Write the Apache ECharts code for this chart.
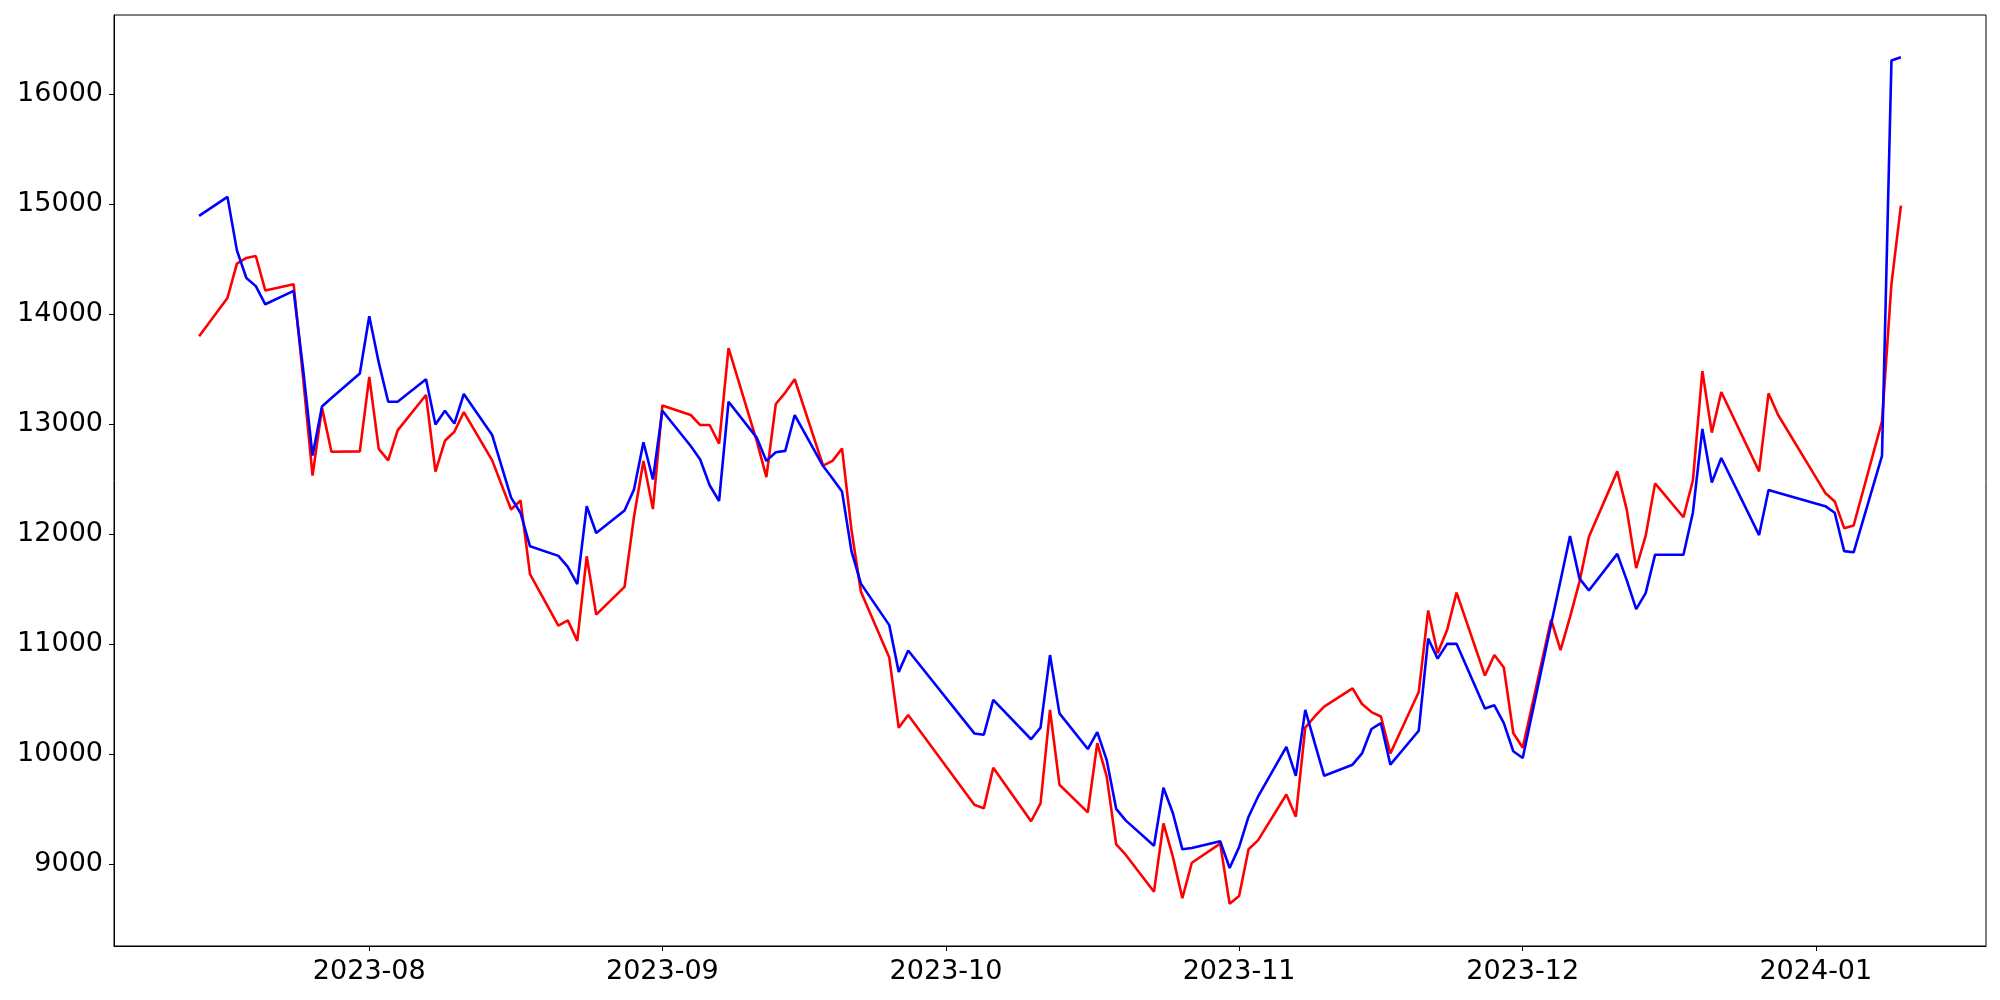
<!DOCTYPE html>
<html>
<head>
<meta charset="utf-8">
<script src="https://cdn.jsdelivr.net/npm/echarts@6/dist/echarts.min.js"></script>
<style>
html,body{margin:0;padding:0;background:#fff;}
#chart{width:2000px;height:1000px;}
</style>
</head>
<body>
<div id="chart"></div>
<script>
const dates = [
  '2023-07-14','2023-07-17','2023-07-18','2023-07-19','2023-07-20','2023-07-21','2023-07-24','2023-07-25','2023-07-26','2023-07-27','2023-07-28','2023-07-31',
  '2023-08-01','2023-08-02','2023-08-03','2023-08-04','2023-08-07','2023-08-08','2023-08-09','2023-08-10','2023-08-11','2023-08-14','2023-08-16','2023-08-17','2023-08-18','2023-08-21','2023-08-22','2023-08-23','2023-08-24','2023-08-25','2023-08-28','2023-08-29','2023-08-30','2023-08-31',
  '2023-09-01','2023-09-04','2023-09-05','2023-09-06','2023-09-07','2023-09-08','2023-09-11','2023-09-12','2023-09-13','2023-09-14','2023-09-15','2023-09-18','2023-09-19','2023-09-20','2023-09-21','2023-09-22','2023-09-25','2023-09-26','2023-09-27',
  '2023-10-04','2023-10-05','2023-10-06','2023-10-10','2023-10-11','2023-10-12','2023-10-13','2023-10-16','2023-10-17','2023-10-18','2023-10-19','2023-10-20','2023-10-23','2023-10-24','2023-10-25','2023-10-26','2023-10-27','2023-10-30','2023-10-31',
  '2023-11-01','2023-11-02','2023-11-03','2023-11-06','2023-11-07','2023-11-08','2023-11-09','2023-11-10','2023-11-13','2023-11-14','2023-11-15','2023-11-16','2023-11-17','2023-11-20','2023-11-21','2023-11-22','2023-11-23','2023-11-24','2023-11-27','2023-11-28','2023-11-29','2023-11-30',
  '2023-12-01','2023-12-04','2023-12-05','2023-12-06','2023-12-07','2023-12-08','2023-12-11','2023-12-12','2023-12-13','2023-12-14','2023-12-15','2023-12-18','2023-12-19','2023-12-20','2023-12-21','2023-12-22','2023-12-26','2023-12-27','2023-12-28',
  '2024-01-02','2024-01-03','2024-01-04','2024-01-05','2024-01-08','2024-01-09','2024-01-10'
];
const blueValues = [
  14891,15064,14578,14327,14253,14088,14210,13500,12713,13160,13236,13459,
  13980,13560,13203,13203,13407,12995,13121,13004,13273,12900,12331,12192,11889,11802,11702,11546,12253,12010,12214,12405,12835,12496,
  13121,12800,12678,12444,12301,13203,12874,12665,12743,12756,13082,12618,12505,12388,11845,11550,11173,10748,10942,
  10189,10177,10493,10136,10241,10901,10371,10047,10201,9946,9504,9399,9168,9695,9464,9136,9148,9209,8966,
  9156,9432,9614,10067,9804,10403,10100,9804,9905,10007,10229,10282,9905,10213,11051,10869,11003,11003,10416,10444,10282,10027,
  9966,11181,11578,11983,11598,11488,11820,11582,11319,11464,11813,11813,12197,12955,12469,12691,11991,12400,12376,
  12254,12194,11845,11835,12711,16304,16332
];
const redValues = [
  13798,14145,14457,14509,14527,14214,14270,13420,12531,13147,12748,12752,
  13429,12774,12670,12943,13264,12568,12848,12930,13108,12670,12223,12305,11637,11168,11216,11030,11798,11268,11520,12158,12665,12227,
  13169,13082,12991,12991,12821,13689,12840,12518,13182,13286,13407,12622,12665,12778,12040,11476,10878,10240,10356,
  9541,9508,9877,9391,9553,10403,9723,9472,10100,9796,9180,9087,8751,9371,9067,8691,9014,9188,8642,
  8711,9136,9217,9634,9432,10241,10343,10432,10598,10456,10383,10343,10007,10565,11306,10918,11128,11468,10715,10902,10788,10193,
  10059,11222,10946,11246,11566,11975,12570,12222,11691,11983,12461,12153,12489,13481,12922,13291,12570,13279,13084,
  12374,12297,12054,12078,13024,14274,14985
];
const monthTicks = ['2023-08-01','2023-09-01','2023-10-01','2023-11-01','2023-12-01','2024-01-01'];
const yTicks = [9000,10000,11000,12000,13000,14000,15000,16000];

function toTime(s){const p=s.split('-').map(Number);return Date.UTC(p[0],p[1]-1,p[2]);}
const times = dates.map(toTime);
const t0 = times[0], t1 = times[times.length-1];
const xMin = t0 - 0.05*(t1-t0), xMax = t1 + 0.05*(t1-t0);
const allV = blueValues.concat(redValues);
const vMin = Math.min.apply(null, allV), vMax = Math.max.apply(null, allV);
const yMin = vMin - 0.05*(vMax-vMin), yMax = vMax + 0.05*(vMax-vMin);
const monthTimes = monthTicks.map(toTime);
function pad(n){return (n<10?'0':'')+n;}

const chart = echarts.init(document.getElementById('chart'), null, {renderer:'canvas'});
chart.setOption({
  animation: false,
  backgroundColor: '#ffffff',
  grid: {left: 114, right: 14, top: 15, bottom: 54, show: true, borderColor: '#000', borderWidth: 1, backgroundColor: 'transparent'},
  xAxis: {
    type: 'value', min: xMin, max: xMax, scale: true,
    axisLine: {show: true, onZero: false, lineStyle: {color: '#000', width: 1}},
    axisTick: {show: true, inside: false, length: 5, customValues: monthTimes, lineStyle: {color: '#000', width: 1}},
    axisLabel: {show: true, customValues: monthTimes, margin: 12, color: '#000', fontFamily: 'DejaVu Sans', fontSize: 27,
      formatter: function(v){const d=new Date(v);return d.getUTCFullYear()+'-'+pad(d.getUTCMonth()+1);}},
    splitLine: {show: false}
  },
  yAxis: {
    type: 'value', min: yMin, max: yMax, scale: true,
    axisLine: {show: true, onZero: false, lineStyle: {color: '#000', width: 1}},
    axisTick: {show: true, inside: false, length: 5, customValues: yTicks, lineStyle: {color: '#000', width: 1}},
    axisLabel: {show: true, customValues: yTicks, margin: 11, color: '#000', fontFamily: 'DejaVu Sans', fontSize: 27,
      formatter: function(v){return String(v);}},
    splitLine: {show: false}
  },
  series: [
    {type: 'line', name: 'red', data: times.map((t,i)=>[t, redValues[i]]), showSymbol: false, symbol: 'none',
     lineStyle: {color: '#ff0000', width: 2.6}, itemStyle: {color: '#ff0000'}},
    {type: 'line', name: 'blue', data: times.map((t,i)=>[t, blueValues[i]]), showSymbol: false, symbol: 'none',
     lineStyle: {color: '#0000ff', width: 2.6}, itemStyle: {color: '#0000ff'}}
  ]
});
</script>
</body>
</html>
